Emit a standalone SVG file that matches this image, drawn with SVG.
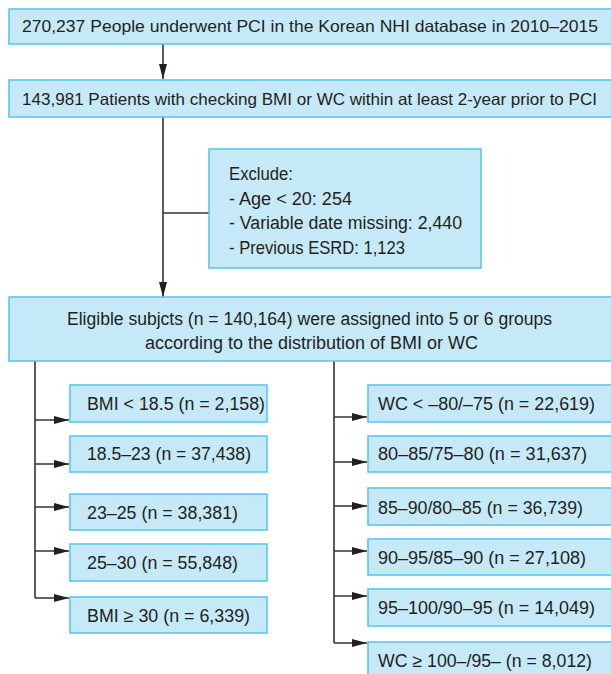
<svg xmlns="http://www.w3.org/2000/svg" width="611" height="674" viewBox="0 0 611 674">
<style>
.box{fill:#c6e9f8;stroke:#5ac7ee;stroke-width:1.6}
.t{font-family:"Liberation Sans",Arial,sans-serif;font-size:18px;fill:#231f20}
.w{font-size:16.5px}
.c{fill:none;stroke:#333;stroke-width:1.6}
</style>
<defs>
<marker id="ah" markerUnits="userSpaceOnUse" markerWidth="16" markerHeight="10" refX="15" refY="4.5" orient="auto">
<path d="M0,0.5 L15,4.5 L0,8.5 z" fill="#231f20"/>
</marker>
</defs>
<rect width="611" height="674" fill="#fff"/>

<g id="connectors">
<path class="c" d="M163,44 V79" marker-end="url(#ah)"/>
<path class="c" d="M163,117 V297" marker-end="url(#ah)"/>
<path class="c" d="M163,213 H209"/>
<path class="c" d="M35,361 V598"/>
<path class="c" d="M35,420 H69" marker-end="url(#ah)"/>
<path class="c" d="M35,464 H69" marker-end="url(#ah)"/>
<path class="c" d="M35,507 H69" marker-end="url(#ah)"/>
<path class="c" d="M35,551 H69" marker-end="url(#ah)"/>
<path class="c" d="M35,598 H69" marker-end="url(#ah)"/>
<path class="c" d="M334,361 V643"/>
<path class="c" d="M334,417 H367" marker-end="url(#ah)"/>
<path class="c" d="M334,462 H367" marker-end="url(#ah)"/>
<path class="c" d="M334,506 H367" marker-end="url(#ah)"/>
<path class="c" d="M334,551 H367" marker-end="url(#ah)"/>
<path class="c" d="M334,596 H367" marker-end="url(#ah)"/>
<path class="c" d="M334,643 H367" marker-end="url(#ah)"/>
</g>

<g id="n1">
<rect class="box" x="9" y="9" width="603" height="35"/>
<text class="t w" x="22" y="32" textLength="576" lengthAdjust="spacingAndGlyphs">270,237 People underwent PCI in the Korean NHI database in 2010–2015</text>
</g>
<g id="n2">
<rect class="box" x="9" y="80" width="603" height="37"/>
<text class="t w" x="22" y="104.5" textLength="575" lengthAdjust="spacingAndGlyphs">143,981 Patients with checking BMI or WC within at least 2-year prior to PCI</text>
</g>
<g id="exclude">
<rect class="box" x="209" y="149" width="272" height="119"/>
<text class="t" x="229" y="179.5" textLength="64" lengthAdjust="spacingAndGlyphs">Exclude:</text>
<text class="t" x="229" y="204.5" textLength="123" lengthAdjust="spacingAndGlyphs">- Age &lt; 20: 254</text>
<text class="t" x="229" y="228.5" textLength="233" lengthAdjust="spacingAndGlyphs">- Variable date missing: 2,440</text>
<text class="t" x="229" y="253.5" textLength="176" lengthAdjust="spacingAndGlyphs">- Previous ESRD: 1,123</text>
</g>
<g id="n3">
<rect class="box" x="9" y="297" width="603" height="64"/>
<text class="t" x="67" y="324.5" textLength="485" lengthAdjust="spacingAndGlyphs">Eligible subjcts (n = 140,164) were assigned into 5 or 6 groups</text>
<text class="t" x="145" y="348.5" textLength="333" lengthAdjust="spacingAndGlyphs">according to the distribution of BMI or WC</text>
</g>

<g id="bmi1">
<rect class="box" x="70" y="385" width="197" height="37"/>
<text class="t" x="87" y="409.5" textLength="178" lengthAdjust="spacingAndGlyphs">BMI &lt; 18.5 (n = 2,158)</text>
</g>
<g id="bmi2">
<rect class="box" x="70" y="436" width="197" height="36"/>
<text class="t" x="87" y="459.5" textLength="164" lengthAdjust="spacingAndGlyphs">18.5–23 (n = 37,438)</text>
</g>
<g id="bmi3">
<rect class="box" x="70" y="494" width="197" height="36"/>
<text class="t" x="87" y="518.5" textLength="151" lengthAdjust="spacingAndGlyphs">23–25 (n = 38,381)</text>
</g>
<g id="bmi4">
<rect class="box" x="70" y="544" width="197" height="37"/>
<text class="t" x="87" y="568.5" textLength="151" lengthAdjust="spacingAndGlyphs">25–30 (n = 55,848)</text>
</g>
<g id="bmi5">
<rect class="box" x="70" y="597" width="197" height="36"/>
<text class="t" x="87" y="621.5" textLength="163" lengthAdjust="spacingAndGlyphs">BMI ≥ 30 (n = 6,339)</text>
</g>

<g id="wc1">
<rect class="box" x="368" y="385" width="244" height="37"/>
<text class="t" x="378" y="409.5" textLength="217" lengthAdjust="spacingAndGlyphs">WC &lt; –80/–75 (n = 22,619)</text>
</g>
<g id="wc2">
<rect class="box" x="368" y="436" width="244" height="36"/>
<text class="t" x="378" y="459.5" textLength="209" lengthAdjust="spacingAndGlyphs">80–85/75–80 (n = 31,637)</text>
</g>
<g id="wc3">
<rect class="box" x="368" y="488" width="244" height="37"/>
<text class="t" x="378" y="513.5" textLength="205" lengthAdjust="spacingAndGlyphs">85–90/80–85 (n = 36,739)</text>
</g>
<g id="wc4">
<rect class="box" x="368" y="539" width="244" height="36"/>
<text class="t" x="378" y="563.5" textLength="208" lengthAdjust="spacingAndGlyphs">90–95/85–90 (n = 27,108)</text>
</g>
<g id="wc5">
<rect class="box" x="368" y="589" width="244" height="37"/>
<text class="t" x="378" y="613.5" textLength="217" lengthAdjust="spacingAndGlyphs">95–100/90–95 (n = 14,049)</text>
</g>
<g id="wc6">
<rect class="box" x="368" y="642" width="244" height="33"/>
<text class="t" x="378" y="666.5" textLength="214" lengthAdjust="spacingAndGlyphs">WC ≥ 100–/95– (n = 8,012)</text>
</g>
</svg>
